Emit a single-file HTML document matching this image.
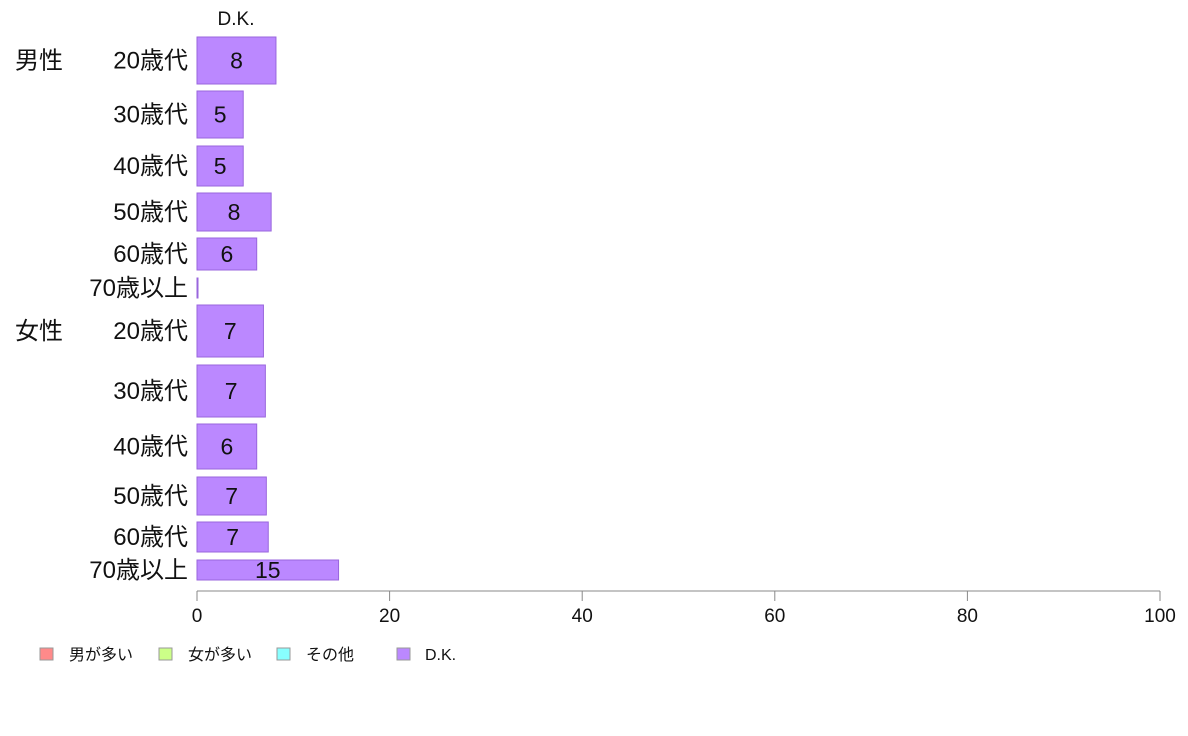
<!DOCTYPE html>
<html><head><meta charset="utf-8"><style>
body{margin:0;background:#fff;}
svg{display:block;font-family:"Liberation Sans","Noto Sans CJK JP",sans-serif;}
</style></head><body>
<svg id="chart" width="1188" height="736" xmlns="http://www.w3.org/2000/svg"></svg>
<script>
const groupLabels = ["男性","","","","","","女性","","","","",""];
const categories = ["20歳代","30歳代","40歳代","50歳代","60歳代","70歳以上","20歳代","30歳代","40歳代","50歳代","60歳代","70歳以上"];
const dkValues = [8.2,4.8,4.8,7.7,6.2,0.1,6.9,7.1,6.2,7.2,7.4,14.7];
const dkLabels = ["8","5","5","8","6","","7","7","6","7","7","15"];
const rowTops = [37,91,146,193,238,278,305,365,424,477,522,560];
const rowBottoms = [84,138,186,231,270,298,357,417,469,515,552,580];
const ticks = [0,20,40,60,80,100];
const legendLabels = ["男が多い","女が多い","その他","D.K."];
const legendColors = ["#ff8a8a","#ccff88","#88ffff","#bb88ff"];

const svg = document.getElementById('chart');
const NS = 'http://www.w3.org/2000/svg';
const x0 = 197, x1 = 1160;
const xs = v => x0 + (x1 - x0) * v / 100;
function mk(tag, attrs, txt){
  const e = document.createElementNS(NS, tag);
  for (const k in attrs) e.setAttribute(k, attrs[k]);
  if (txt !== undefined) e.textContent = txt;
  svg.appendChild(e);
  return e;
}
let t = mk('text',{x:236,y:25,'font-size':19,'text-anchor':'middle',fill:'#111'},'D.K.');



for (let i=0;i<categories.length;i++){
  const y0 = rowTops[i], y1 = rowBottoms[i], cy = (y0+y1)/2;
  const r = mk('rect',{x:x0,y:y0,width:Math.max(1,xs(dkValues[i])-x0),height:y1-y0,fill:'#bb88ff',stroke:'#9966dd','stroke-width':1});
  
  
  const c = mk('text',{x:188,y:cy+8,'font-size':24,'text-anchor':'end',fill:'#111'},categories[i]);
  
  
  if (groupLabels[i]){
    const g = mk('text',{x:15,y:cy+8,'font-size':24,fill:'#111'},groupLabels[i]);
    
    
  }
  if (dkLabels[i]){
    const v = mk('text',{x:(x0+xs(dkValues[i]))/2,y:cy+8,'font-size':23,'text-anchor':'middle',fill:'#111'},dkLabels[i]);
    
    
  }
}
const ax = mk('line',{x1:x0,y1:591,x2:x1,y2:591,stroke:'#888','stroke-width':1});


for (const tv of ticks){
  const tl = mk('line',{x1:xs(tv),y1:591,x2:xs(tv),y2:601,stroke:'#888','stroke-width':1});
  
  
  const tt = mk('text',{x:xs(tv),y:622,'font-size':19,'text-anchor':'middle',fill:'#111'},String(tv));
  
  
}
const lx = [40,159,277,397];
for (let i=0;i<legendLabels.length;i++){
  const s = mk('rect',{x:lx[i],y:648,width:13,height:12,fill:legendColors[i],stroke:'#999','stroke-width':1});
  
  
  const lt = mk('text',{x:lx[i]+(i==3?28:29),y:660,'font-size':16,fill:'#111'},legendLabels[i]);
  
  
}
</script>
</body></html>
